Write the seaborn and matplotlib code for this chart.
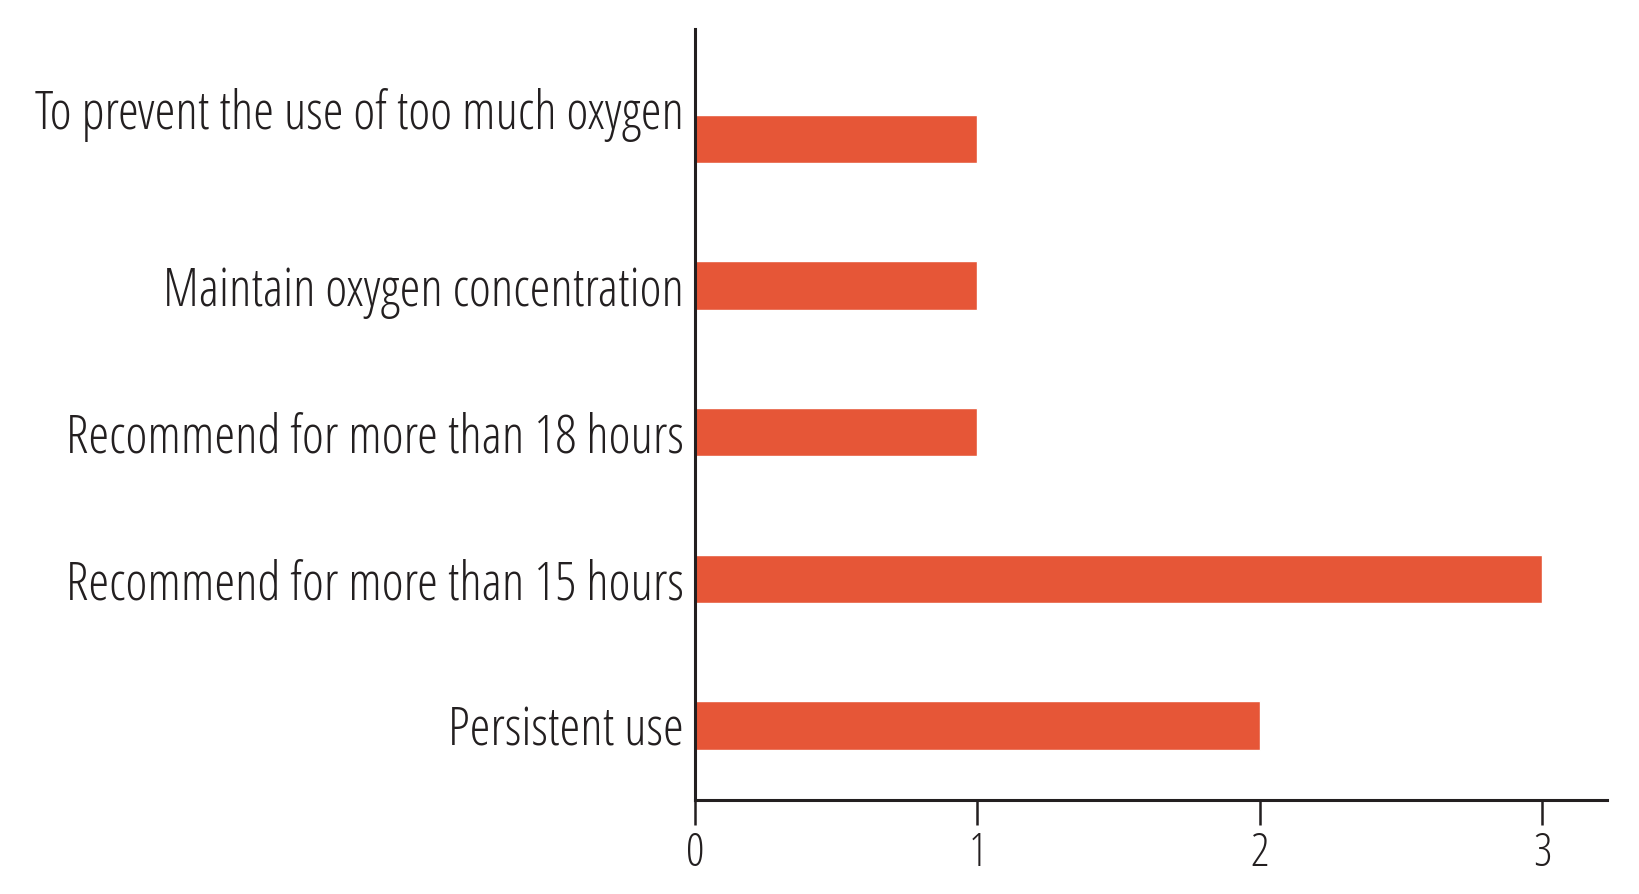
import matplotlib
matplotlib.use("Agg")
import matplotlib.pyplot as plt
import matplotlib.transforms as mtransforms
import seaborn as sns
import pandas as pd

categories = [
    "To prevent the use of too much oxygen",
    "Maintain oxygen concentration",
    "Recommend for more than 18 hours",
    "Recommend for more than 15 hours",
    "Persistent use",
]
values = [1, 1, 1, 3, 2]
x_ticks = [0, 1, 2, 3]

sns.set_theme(style="white")
plt.rcParams['font.family'] = ['Open Sans', 'DejaVu Sans']

df = pd.DataFrame({"reason": categories, "count": values})

fig = plt.figure(figsize=(16.39, 8.94), dpi=100)
ax = fig.add_axes([0.424, 0.105, 0.5565, 0.8626])
sns.barplot(data=df, y="reason", x="count", color="#E65637", width=0.33,
            saturation=1, ax=ax, orient="h")

ax.set_xlim(0, 3.23)
ax.set_ylim(4.51, -0.75)
ax.set_xticks(x_ticks)
ax.set_xlabel("")
ax.set_ylabel("")
for s in ["top", "right"]:
    ax.spines[s].set_visible(False)
for s in ["left", "bottom"]:
    ax.spines[s].set_linewidth(2.2)
    ax.spines[s].set_color("#231f20")
ax.tick_params(axis="x", length=18, width=1.8, colors="#231f20", labelsize=33, pad=4, bottom=True)
ax.tick_params(axis="y", length=0, labelsize=38, pad=8, colors="#231f20")
for lbl in ax.get_yticklabels() + ax.get_xticklabels():
    lbl.set_fontstretch("condensed")

# first label sits a bit higher than its bar in the reference
first = ax.get_yticklabels()[0]
first.set_transform(first.get_transform() + mtransforms.ScaledTranslation(0, 30/100, fig.dpi_scale_trans))

fig.savefig("out.png", dpi=100)
